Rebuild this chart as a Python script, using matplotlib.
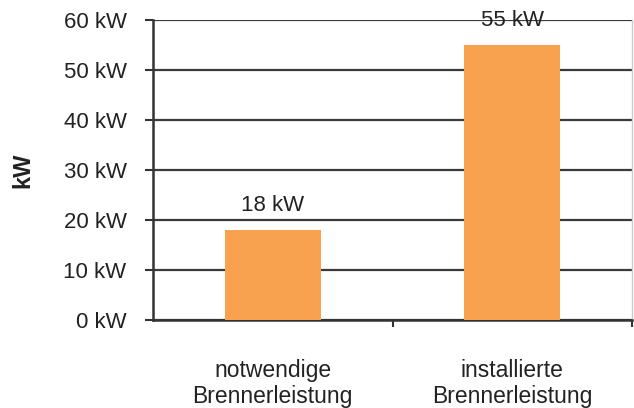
import numpy as np
import matplotlib.pyplot as plt
from matplotlib.ticker import FuncFormatter

# -----------------------------------------------------------------------------
# données
# -----------------------------------------------------------------------------
categories = ['notwendige\nBrennerleistung', 'installierte\nBrennerleistung']
werte = [18, 55]
etiquettes = ['18 kW', '55 kW']
yticks = [0, 10, 20, 30, 40, 50, 60]

plt.rcParams['font.family'] = ['Liberation Sans', 'DejaVu Sans']

fig = plt.figure(figsize=(6.34, 4.08), dpi=100)
ax = fig.add_axes([153/634, 88/408, 479/634, 300/408])

x = np.arange(len(categories))
ax.bar(x, werte, width=0.4, color='#F8A24F', zorder=3)

ax.set_xlim(-0.5, 1.5)
ax.set_ylim(0, 60)
ax.set_yticks(yticks)
ax.yaxis.set_major_formatter(FuncFormatter(lambda v, p: '%d kW' % v))
ax.grid(axis='y', color='#3a3a3a', linewidth=1.6, zorder=1)

ax.set_xticks(x)
ax.set_xticklabels(categories, fontsize=16.5, color='#222222', linespacing=1.2)
ax.set_xticks([0.5, 1.5], minor=True)
ax.tick_params(axis='x', which='major', length=0, pad=28)
ax.tick_params(axis='x', which='minor', length=5, width=1.5, color='#333333')
ax.tick_params(axis='y', length=6, width=1.5, color='#333333', pad=13,
               labelsize=16, labelcolor='#222222')

ax.spines['top'].set_visible(False)
ax.spines['right'].set_color('#cccccc')
ax.spines['right'].set_linewidth(1.0)
ax.spines['left'].set_linewidth(1.8)
ax.spines['left'].set_color('#333333')
ax.spines['bottom'].set_linewidth(1.8)
ax.spines['bottom'].set_color('#333333')

for xi, v, t in zip(x, werte, etiquettes):
    ax.annotate(t, (xi, v), xytext=(0, 10), textcoords='offset points',
                ha='center', va='bottom', fontsize=16, color='#222222', zorder=4)

fig.text(23/634, 1 - 170/408, 'kW', rotation=90, ha='center', va='center',
         fontsize=17, fontweight='bold', color='#222222')

fig.savefig('out.png', dpi=100)
